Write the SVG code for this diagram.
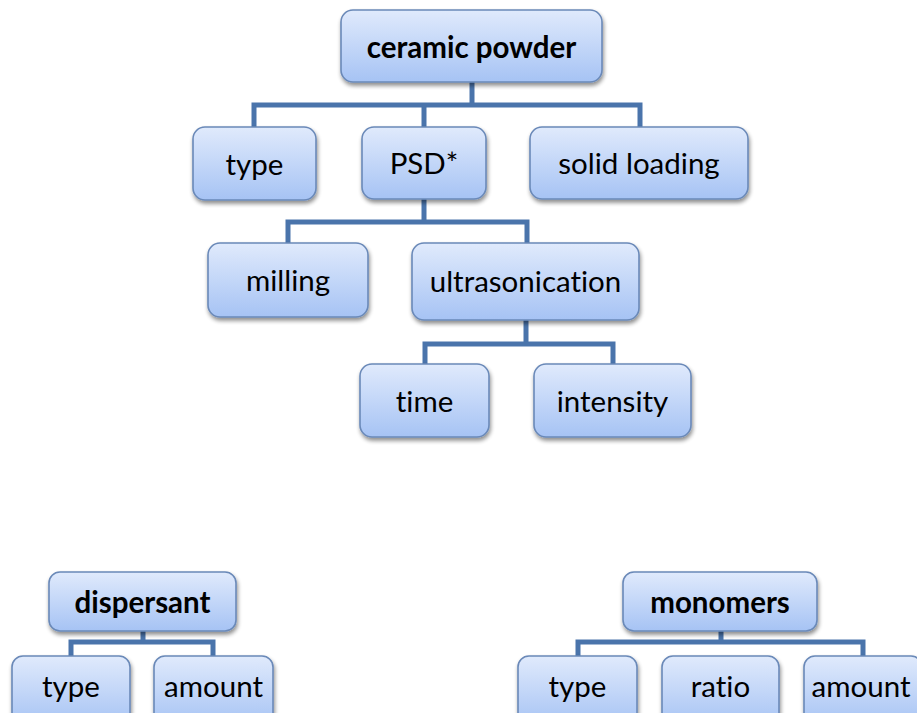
<svg xmlns="http://www.w3.org/2000/svg" width="917" height="713" viewBox="0 0 917 713">
  <defs>
    <linearGradient id="boxFill" x1="0" y1="0" x2="0" y2="1">
      <stop offset="0" stop-color="#e0eafc"/>
      <stop offset="1" stop-color="#a6c3f4"/>
    </linearGradient>
    <filter id="shadow" x="-10%" y="-10%" width="130%" height="140%">
      <feGaussianBlur in="SourceAlpha" stdDeviation="2"/>
      <feOffset dx="1" dy="3" result="b"/>
      <feComponentTransfer><feFuncA type="linear" slope="0.45"/></feComponentTransfer>
      <feMerge><feMergeNode/><feMergeNode in="SourceGraphic"/></feMerge>
    </filter>
  </defs>
  <style>
    .box { fill: url(#boxFill); stroke: #6a89b8; stroke-width: 1.6; filter: url(#shadow); }
    .lbl { font-family: Lato, "Liberation Sans", sans-serif; font-size: 29.5px; fill: #000; text-anchor: middle; dominant-baseline: central; font-variant-ligatures: none; }
    .bold { font-weight: bold; }
    .link { fill: none; stroke: #4a74ab; stroke-width: 5; stroke-linejoin: miter; }
  </style>
  <rect width="917" height="713" fill="#fff"/>

  <!-- connectors -->
  <g id="connectors">
    <path class="link" d="M472 82 V105 M254 127 V105 H640 V127 M424 105 V127"/>
    <path class="link" d="M424 199 V222 M288 243 V222 H527 V243"/>
    <path class="link" d="M526 320 V344 M425 364 V344 H613 V364"/>
    <path class="link" d="M143 631 V642 M71 656 V642 H213 V656"/>
    <path class="link" d="M721 631 V642 M578 656 V642 H863 V656"/>
  </g>

  <!-- ceramic powder tree -->
  <g id="ceramic-powder">
    <rect class="box" x="341" y="10" width="261" height="72" rx="12"/>
    <text class="lbl bold" x="471.5" y="46">ceramic powder</text>
  </g>
  <g id="type-1">
    <rect class="box" x="193" y="127" width="123" height="73" rx="12"/>
    <text class="lbl" x="254.5" y="163">type</text>
  </g>
  <g id="psd">
    <rect class="box" x="362" y="127" width="124" height="72" rx="12"/>
    <text class="lbl" x="424" y="162">PSD*</text>
  </g>
  <g id="solid-loading">
    <rect class="box" x="530" y="127" width="218" height="72" rx="12"/>
    <text class="lbl" x="639" y="162">solid loading</text>
  </g>
  <g id="milling">
    <rect class="box" x="208" y="243" width="160" height="74" rx="12"/>
    <text class="lbl" x="288" y="279">milling</text>
  </g>
  <g id="ultrasonication">
    <rect class="box" x="412" y="243" width="227" height="77" rx="12"/>
    <text class="lbl" x="525.5" y="280">ultrasonication</text>
  </g>
  <g id="time">
    <rect class="box" x="360" y="364" width="129" height="73" rx="12"/>
    <text class="lbl" x="424.5" y="400">time</text>
  </g>
  <g id="intensity">
    <rect class="box" x="534" y="364" width="157" height="73" rx="12"/>
    <text class="lbl" x="612.5" y="400">intensity</text>
  </g>

  <!-- dispersant tree -->
  <g id="dispersant">
    <rect class="box" x="49" y="572" width="187" height="59" rx="11"/>
    <text class="lbl bold" x="142.5" y="601">dispersant</text>
  </g>
  <g id="type-2">
    <rect class="box" x="12" y="656" width="118" height="70" rx="11"/>
    <text class="lbl" x="71" y="685">type</text>
  </g>
  <g id="amount-1">
    <rect class="box" x="154" y="656" width="119" height="70" rx="11"/>
    <text class="lbl" x="213.5" y="685">amount</text>
  </g>

  <!-- monomers tree -->
  <g id="monomers">
    <rect class="box" x="623" y="572" width="194" height="59" rx="11"/>
    <text class="lbl bold" x="720" y="601">monomers</text>
  </g>
  <g id="type-3">
    <rect class="box" x="518" y="656" width="119" height="70" rx="11"/>
    <text class="lbl" x="577.5" y="685">type</text>
  </g>
  <g id="ratio">
    <rect class="box" x="662" y="656" width="117" height="70" rx="11"/>
    <text class="lbl" x="720.5" y="685">ratio</text>
  </g>
  <g id="amount-2">
    <rect class="box" x="804" y="656" width="118" height="70" rx="11"/>
    <text class="lbl" x="861" y="685">amount</text>
  </g>
</svg>
